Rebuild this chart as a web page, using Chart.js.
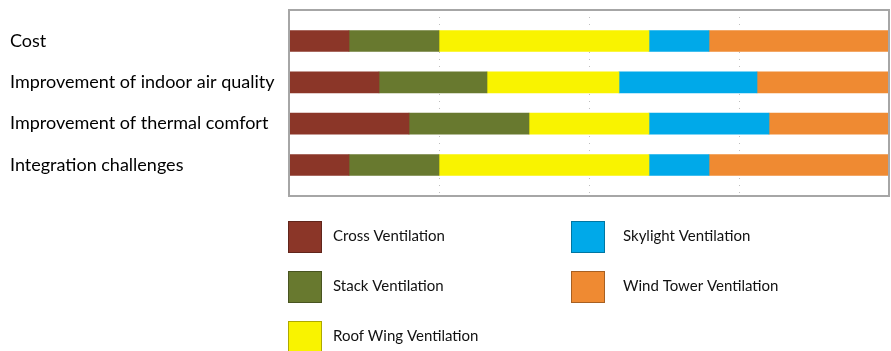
<!DOCTYPE html>
<html lang="en">
<head>
<meta charset="UTF-8" />
<title>Ventilation strategies</title>
<script src="https://cdn.jsdelivr.net/npm/chart.js@4.4.0/dist/chart.umd.min.js"></script>
<style>
  html, body { margin:0; padding:0; background:#ffffff; }
  #wrap { width:891px; height:351px; }
</style>
</head>
<body>
<div id="wrap"><canvas id="v_chart"></canvas></div>
<script>
// criteria on the left, one bar each
const criteria = ['Cost', 'Improvement of indoor air quality', 'Improvement of thermal comfort', 'Integration challenges'];

// share (%) of each ventilation type per criterion
const crossVent    = [10, 15, 20, 10];
const stackVent    = [15, 18, 20, 15];
const roofWingVent = [35, 22, 20, 35];
const skylightVent = [10, 23, 20, 10];
const windTowerVent= [30, 22, 20, 30];

const seriesNames  = ['Cross Ventilation', 'Stack Ventilation', 'Roof Wing Ventilation', 'Skylight Ventilation', 'Wind Tower Ventilation'];
const seriesValues = [crossVent, stackVent, roofWingVent, skylightVent, windTowerVent];
const seriesColors = ['#8B3628', '#68792F', '#F9F300', '#00A9E9', '#EF8A32'];

const FONT = 'Lato, "Open Sans", sans-serif';

let datasets = seriesNames.map((name, s) => ({
  label: name,
  data: seriesValues[s].map((v, i) => ({ x: v, y: i })),
  backgroundColor: seriesColors[s],
  borderWidth: 0,
  barThickness: 21
}));

// gray frame around the plot
const frame = {
  id: 'frame',
  afterDatasetsDraw(chart) {
    const a = chart.chartArea, ctx = chart.ctx;
    ctx.save();
    ctx.strokeStyle = '#A6A6A6';
    ctx.lineWidth = 2;
    ctx.strokeRect(a.left, a.top, a.right - a.left, a.bottom - a.top);
    ctx.restore();
  }
};

// two-column legend under the plot
const boxLegend = {
  id: 'boxLegend',
  afterDraw(chart) {
    const ctx = chart.ctx;
    const colX = [288, 571], textX = [333, 623], rowY = [221, 271, 321];
    ctx.save();
    ctx.font = '15px ' + FONT;
    ctx.textBaseline = 'middle';
    chart.data.datasets.forEach((ds, i) => {
      const col = i < 3 ? 0 : 1, row = i < 3 ? i : i - 3;
      const x = colX[col], y = rowY[row];
      ctx.fillStyle = ds.backgroundColor;
      ctx.fillRect(x, y, 34, 32);
      ctx.strokeStyle = 'rgba(0,0,0,0.3)';
      ctx.lineWidth = 1;
      ctx.strokeRect(x + 0.5, y + 0.5, 33, 31);
      ctx.fillStyle = '#111';
      ctx.fillText(ds.label, textX[col], y + 15);
    });
    ctx.restore();
  }
};

new Chart(document.getElementById('v_chart'), {
  type: 'bar',
  data: { datasets: datasets },
  options: {
    indexAxis: 'y',
    responsive: true,
    maintainAspectRatio: false,
    animation: false,
    layout: { padding: { left: 10, right: 2, top: 10, bottom: 155 } },
    scales: {
      x: {
        stacked: true,
        min: 0, max: 100,
        ticks: { display: false, stepSize: 25 },
        grid: { color: '#BFBFBF', drawTicks: false, lineWidth: 1 },
        border: { display: false, dash: [1, 6] }
      },
      y: {
        type: 'linear',
        stacked: true,
        reverse: true,
        offset: false,
        bounds: 'data',
        min: -0.75, max: 3.75,
        afterBuildTicks(scale) { scale.ticks = criteria.map((c, i) => ({ value: i })); },
        afterFit(scale) {
          scale.width = 279;
          scale.paddingTop = 0;
          scale.paddingBottom = 0;
        },
        ticks: {
          crossAlign: 'far',
          color: '#000',
          font: { family: FONT, size: 18 },
          callback: (v) => criteria[v]
        },
        grid: { display: false, offset: false },
        border: { display: false }
      }
    },
    plugins: { legend: { display: false }, tooltip: { enabled: false } }
  },
  plugins: [frame, boxLegend]
});
</script>
</body>
</html>
